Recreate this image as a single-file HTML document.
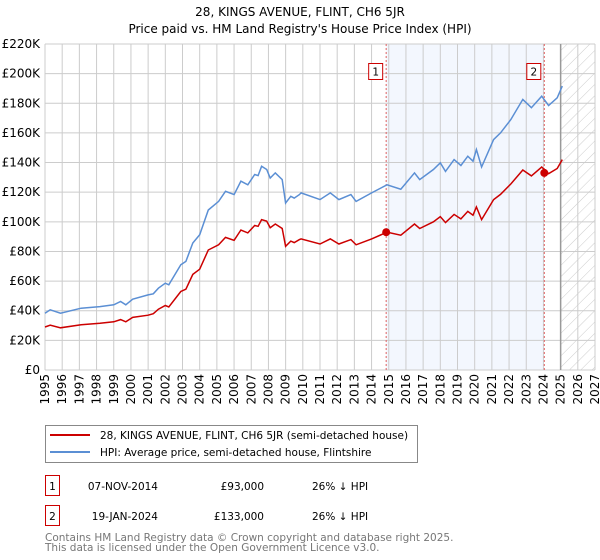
<!DOCTYPE html>
<html><head><meta charset="utf-8"><style>
body{margin:0;background:#fff;font-family:"DejaVu Sans","Liberation Sans",sans-serif;}
svg{display:block}
</style></head><body>
<svg id="chart" width="600" height="560" xmlns="http://www.w3.org/2000/svg" font-family="DejaVu Sans, Liberation Sans, sans-serif">
<defs><pattern id="hatch" width="8" height="8" patternUnits="userSpaceOnUse" patternTransform="rotate(45)"><line x1="0" y1="0" x2="0" y2="8" stroke="#ccc" stroke-width="1"/></pattern></defs>
<text x="300" y="16" text-anchor="middle" font-size="12">28, KINGS AVENUE, FLINT, CH6 5JR</text>
<text x="300" y="33" text-anchor="middle" font-size="12">Price paid vs. HM Land Registry's House Price Index (HPI)</text>
<g id="bg"></g><g id="grid"></g><g id="series"></g><g id="axes"></g>
<g>
<rect x="45.5" y="425.5" width="372" height="37" fill="#fff" stroke="#888"/>
<line x1="50" y1="435" x2="90" y2="435" stroke="#cc0000" stroke-width="2"/>
<text x="100" y="439" font-size="10.5">28, KINGS AVENUE, FLINT, CH6 5JR (semi-detached house)</text>
<line x1="50" y1="452" x2="90" y2="452" stroke="#5b8fd4" stroke-width="2"/>
<text x="100" y="456" font-size="10.5">HPI: Average price, semi-detached house, Flintshire</text>
</g>
<g font-size="10.5">
<rect x="45.5" y="475.5" width="14" height="20" fill="#fff" stroke="#cc0000"/><text x="52.5" y="490" text-anchor="middle">1</text>
<text x="158" y="490" text-anchor="end">07-NOV-2014</text><text x="264" y="490" text-anchor="end">£93,000</text><text x="312" y="490">26% ↓ HPI</text>
<rect x="45.5" y="505.5" width="14" height="20" fill="#fff" stroke="#cc0000"/><text x="52.5" y="520" text-anchor="middle">2</text>
<text x="158" y="520" text-anchor="end">19-JAN-2024</text><text x="264" y="520" text-anchor="end">£133,000</text><text x="312" y="520">26% ↓ HPI</text>
</g>
<text x="45" y="541" font-size="10.5" fill="#777">Contains HM Land Registry data © Crown copyright and database right 2025.</text>
<text x="45" y="551" font-size="10.5" fill="#777">This data is licensed under the Open Government Licence v3.0.</text>
</svg>
<script>
const hpiYears=[1995.0,1995.3,1995.9,1997.1,1998.2,1999.0,1999.4,1999.7,2000.1,2001.0,2001.3,2001.6,2002.0,2002.2,2002.9,2003.2,2003.6,2004.0,2004.5,2005.1,2005.5,2006.0,2006.4,2006.8,2007.2,2007.4,2007.6,2007.9,2008.1,2008.4,2008.8,2009.0,2009.3,2009.5,2009.8,2009.9,2011.0,2011.6,2012.1,2012.8,2013.1,2014.0,2014.9,2015.7,2016.5,2016.8,2017.6,2018.0,2018.3,2018.8,2019.2,2019.6,2019.9,2020.1,2020.4,2021.1,2021.5,2022.1,2022.8,2023.3,2023.9,2024.3,2024.8,2025.1];
const hpiValues=[38.3,40.6,38.3,41.7,42.8,44,46.2,44,47.8,50.7,51.4,55.2,58.6,57.5,71,73.3,85.7,91.3,108,113.8,120.6,118.4,127.4,125,131.9,131.2,137.5,135.3,129.6,133,128.5,112.7,117.2,116,118.4,119.5,115,119.5,115,118.4,113.8,119.5,125,122,133,128.5,135.3,139.8,134,142,138,144.3,140.9,148.8,137,155.5,160,169,182.6,177,184.8,178.5,183.7,191.6];
const priceValues=[29,30.2,28.5,30.5,31.5,32.5,34,32.5,35.5,37,38,41,43.5,42.5,53,54.5,64.5,68,81,84.5,89.5,87.5,94.5,92.5,97.5,97,101.5,100.5,96,98.5,95.5,83.5,87,86,88,88.5,85,88.5,85,88,84.5,88.5,93,91,98.5,95.5,100,103.5,99.5,105,102,107,104.5,110,101.5,115,118.5,125.5,135,131,137,132.5,136,142];
const saleYears=[2014.85,2024.05];
const saleValues=[93,133];
const saleLabels=["1","2"];
const yTicks=[0,20,40,60,80,100,120,140,160,180,200,220];
const xTicks=[1995,1996,1997,1998,1999,2000,2001,2002,2003,2004,2005,2006,2007,2008,2009,2010,2011,2012,2013,2014,2015,2016,2017,2018,2019,2020,2021,2022,2023,2024,2025,2026,2027];
const X0=45,X1=595,Y0=370,Y1=44;
const xs=y=>X0+(y-1995)/32*(X1-X0);
const ys=v=>Y0-v/220*(Y0-Y1);
const NS="http://www.w3.org/2000/svg";
function mk(parent,tag,attrs){const e=document.createElementNS(NS,tag);for(const k in attrs)e.setAttribute(k,attrs[k]);document.getElementById(parent).appendChild(e);return e;}
// background
let r=mk('bg','rect',{x:xs(saleYears[0]),y:Y1,width:xs(saleYears[1])-xs(saleYears[0]),height:Y0-Y1,fill:'#eef3fd',opacity:0.7});


r=mk('bg','rect',{x:xs(2025),y:Y1,width:X1-xs(2025),height:Y0-Y1,fill:'url(#hatch)'});


// grid
yTicks.forEach(t=>{
 let l=mk('grid','line',{x1:X0,x2:X1,y1:ys(t),y2:ys(t),stroke:'#ccc','stroke-width':1});
 
 
 let tx=mk('axes','text',{x:X0-5,y:ys(t)+4,'text-anchor':'end','font-size':'12'});
 tx.textContent='£'+(t===0?'0':t+'K');
 
 
});
xTicks.forEach(t=>{
 let l=mk('grid','line',{x1:xs(t),x2:xs(t),y1:Y1,y2:Y0,stroke:'#ccc','stroke-width':1});
 
 
 let tx=mk('axes','text',{transform:`translate(${xs(t)+4},${Y0+4}) rotate(-90)`,'text-anchor':'end','font-size':'12'});
 tx.textContent=t;
 
 
});
let lt=mk('grid','line',{x1:xs(2025),x2:xs(2025),y1:Y1,y2:Y0,stroke:'#999','stroke-width':1.5});


saleYears.forEach((s,i)=>{
 let l=mk('grid','line',{x1:xs(s),x2:xs(s),y1:Y1,y2:Y0,stroke:'#e06060','stroke-width':1,'stroke-dasharray':'2,2'});
 
 
});
// series
const pts=v=>hpiYears.map((y,i)=>xs(y).toFixed(1)+','+ys(v[i]).toFixed(1)).join(' ');
let p=mk('series','polyline',{points:pts(hpiValues),fill:'none',stroke:'#5b8fd4','stroke-width':1.5});


p=mk('series','polyline',{points:pts(priceValues),fill:'none',stroke:'#cc0000','stroke-width':1.5});


saleYears.forEach((s,i)=>{
 let c=mk('series','circle',{cx:xs(s),cy:ys(saleValues[i]),r:4,fill:'#cc0000'});
 
 
 let b=mk('series','rect',{x:xs(s)-17.5,y:63.5,width:14,height:16,fill:'#fff',stroke:'#cc0000'});
 
 
 let t=mk('series','text',{x:xs(s)-10.5,y:75.5,'text-anchor':'middle','font-size':'10.5'});
 t.textContent=saleLabels[i];
 
 
});
</script>
</body></html>
